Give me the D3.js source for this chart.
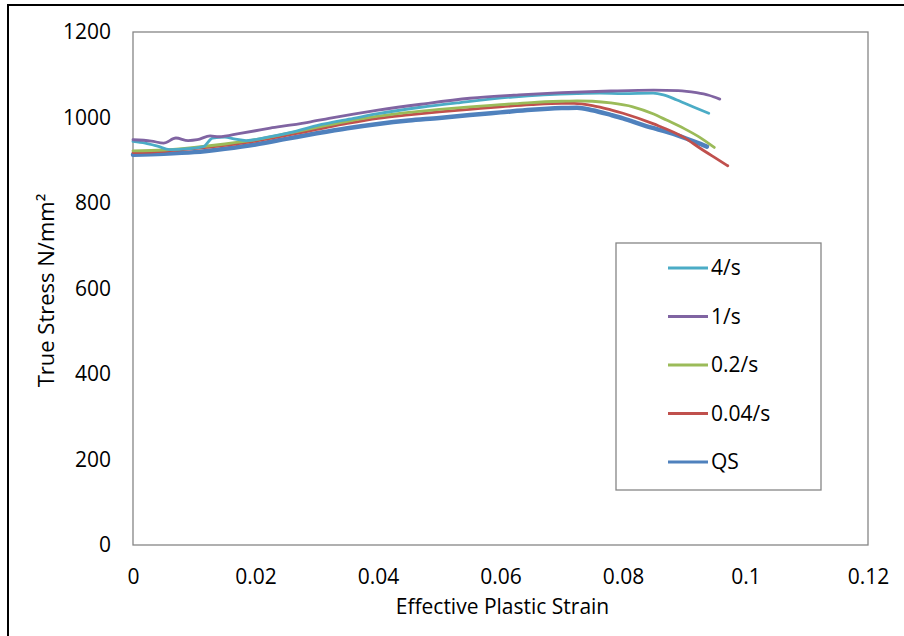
<!DOCTYPE html>
<html>
<head>
<meta charset="utf-8">
<script src="https://cdn.jsdelivr.net/npm/d3@7"></script>
<style>
  html, body { margin: 0; padding: 0; background: #fff; }
  svg { display: block; }
  text { font-family: "Open Sans", "Noto Sans", sans-serif; fill: #000; }
</style>
</head>
<body>
<svg id="chart" width="904" height="636"></svg>
<script>
// ---- Data ----
const seriesNames = ["4/s", "1/s", "0.2/s", "0.04/s", "QS"];
const seriesColors = ["#4BACC6", "#8064A2", "#9BBB59", "#C0504D", "#4F81BD"];

const strain4 = [0, 0.002, 0.004, 0.006, 0.009, 0.0115, 0.013, 0.015, 0.0165, 0.0185, 0.022, 0.026, 0.03, 0.036, 0.04, 0.047, 0.0534, 0.062, 0.0725, 0.0762, 0.08, 0.0849, 0.0866, 0.0888, 0.0921, 0.094];
const stress4 = [944, 940, 933, 925, 927, 932, 952, 954, 950, 946, 954, 966, 981, 998, 1009, 1024, 1035, 1048, 1056, 1057, 1056, 1057, 1053, 1041, 1021, 1010];

const strain1 = [0, 0.003, 0.005, 0.007, 0.009, 0.0105, 0.0126, 0.014, 0.0175, 0.02, 0.0224, 0.0256, 0.029, 0.032, 0.036, 0.04, 0.047, 0.055, 0.063, 0.07, 0.078, 0.085, 0.089, 0.092, 0.094, 0.0958];
const stress1 = [948, 945, 940, 952, 946, 948, 957, 955, 963, 969, 975, 982, 990, 998, 1008, 1017, 1031, 1045, 1053, 1058, 1062, 1064, 1063, 1058, 1052, 1043];

const strain02 = [0, 0.005, 0.01, 0.015, 0.02, 0.025, 0.03, 0.035, 0.04, 0.045, 0.05, 0.055, 0.06, 0.065, 0.07, 0.0725, 0.075, 0.078, 0.0816, 0.085, 0.0871, 0.09, 0.0926, 0.0949];
const stress02 = [922, 924, 930, 938, 948, 962, 977, 991, 1003, 1012, 1019, 1025, 1030, 1035, 1038, 1039, 1038, 1034, 1025, 1008, 994, 974, 953, 930];

const strain004 = [0, 0.005, 0.01, 0.015, 0.02, 0.025, 0.03, 0.035, 0.04, 0.045, 0.05, 0.055, 0.06, 0.065, 0.07, 0.072, 0.075, 0.078, 0.08, 0.085, 0.09, 0.0926, 0.095, 0.0971];
const stress004 = [918, 921, 927, 935, 945, 958, 972, 986, 998, 1006, 1013, 1019, 1025, 1030, 1033, 1033, 1028, 1018, 1010, 985, 953, 928, 906, 887];

const strainQS = [0, 0.005, 0.01, 0.015, 0.02, 0.025, 0.03, 0.035, 0.04, 0.045, 0.05, 0.055, 0.06, 0.065, 0.07, 0.0725, 0.075, 0.078, 0.08, 0.0833, 0.0888, 0.093, 0.0937];
const stressQS = [913, 915, 919, 927, 937, 950, 963, 975, 985, 993, 999, 1006, 1012, 1018, 1022, 1023, 1017, 1006, 998, 982, 959, 936, 932];

const xTicks = [0, 0.02, 0.04, 0.06, 0.08, 0.1, 0.12];
const xTickLabels = ["0", "0.02", "0.04", "0.06", "0.08", "0.1", "0.12"];
const yTicks = [0, 200, 400, 600, 800, 1000, 1200];

const xTitle = "Effective Plastic Strain";
const yTitle = "True Stress N/mm²";

// ---- Build series ----
const strains = [strain4, strain1, strain02, strain004, strainQS];
const stresses = [stress4, stress1, stress02, stress004, stressQS];
const series = seriesNames.map((name, i) => ({
  name,
  color: seriesColors[i],
  points: strains[i].map((s, j) => ({ x: s, y: stresses[i][j] }))
}));

// ---- Layout ----
const svg = d3.select("#chart");
const plot = { left: 133, top: 32, right: 868, bottom: 545 };
const fontSize = "21px";

const x = d3.scaleLinear().domain([0, 0.12]).range([plot.left, plot.right]);
const y = d3.scaleLinear().domain([0, 1200]).range([plot.bottom, plot.top]);

// outer chart frame (only top/left visible in picture)
svg.append("rect")
  .attr("x", 8).attr("y", 5)
  .attr("width", 1000).attr("height", 1000)
  .attr("fill", "none").attr("stroke", "#000").attr("stroke-width", 2);

// plot area border
svg.append("rect")
  .attr("x", plot.left).attr("y", plot.top)
  .attr("width", plot.right - plot.left).attr("height", plot.bottom - plot.top)
  .attr("fill", "none").attr("stroke", "#868686").attr("stroke-width", 1.3);

// axes (labels only, no tick marks)
const xAxis = d3.axisBottom(x).tickValues(xTicks)
  .tickFormat((d, i) => xTickLabels[i]).tickSize(0).tickPadding(24);
const gx = svg.append("g").attr("transform", `translate(0,${plot.bottom})`).call(xAxis);
gx.select(".domain").remove();
gx.selectAll("text").style("font-size", fontSize).style("font-family", "'Open Sans', sans-serif").attr("fill", "#000");

const yAxis = d3.axisLeft(y).tickValues(yTicks).tickFormat(d3.format("d"))
  .tickSize(0).tickPadding(22);
const gy = svg.append("g").attr("transform", `translate(${plot.left},0)`).call(yAxis);
gy.select(".domain").remove();
gy.selectAll("text").style("font-size", fontSize).style("font-family", "'Open Sans', sans-serif").attr("fill", "#000");

// axis titles
svg.append("text")
  .attr("x", (plot.left + plot.right) / 2 + 2).attr("y", 614)
  .attr("text-anchor", "middle").style("font-size", "21px")
  .text(xTitle);
svg.append("text")
  .attr("transform", `translate(54,${(plot.top + plot.bottom) / 2 + 2}) rotate(-90)`)
  .attr("text-anchor", "middle").style("font-size", "22px")
  .text(yTitle);

// lines
const line = d3.line().x(d => x(d.x)).y(d => y(d.y)).curve(d3.curveMonotoneX);
const drawOrder = [4, 3, 2, 0, 1];
drawOrder.forEach(i => {
  const s = series[i];
  svg.append("path")
    .datum(s.points)
    .attr("d", line)
    .attr("fill", "none")
    .attr("stroke", s.color)
    .attr("stroke-width", s.name === "QS" ? 4.5 : 2.8)
    .attr("stroke-linecap", "round")
    .attr("stroke-linejoin", "round");
});

// legend
const legend = { x: 616, y: 243, w: 205, h: 247 };
svg.append("rect")
  .attr("x", legend.x).attr("y", legend.y)
  .attr("width", legend.w).attr("height", legend.h)
  .attr("fill", "#fff").attr("stroke", "#868686").attr("stroke-width", 1.3);
const legendY = d3.scalePoint().domain(seriesNames).range([268, 462]);
series.forEach(s => {
  const ly = legendY(s.name);
  svg.append("line")
    .attr("x1", 668).attr("x2", 708).attr("y1", ly).attr("y2", ly)
    .attr("stroke", s.color).attr("stroke-width", 2.8);
  svg.append("text")
    .attr("x", 711).attr("y", ly).attr("dy", "0.35em")
    .style("font-size", fontSize)
    .text(s.name);
});
</script>
</body>
</html>
